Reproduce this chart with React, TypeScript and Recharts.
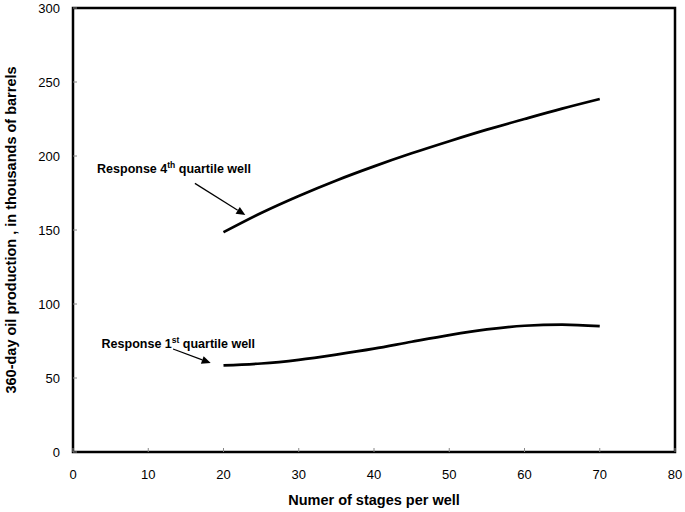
import React from "react"
import {
  LineChart,
  Line,
  XAxis,
  YAxis,
  ReferenceArea,
  ReferenceLine,
  ReferenceDot,
} from "recharts"

const stages = [20, 25, 30, 35, 40, 45, 50, 55, 60, 65, 70]
const fourthQuartile = [148.5, 161.5, 173, 183.5, 193, 201.8, 210, 217.8, 225, 232, 238.5]
const firstQuartile = [58.5, 59.8, 62.3, 65.8, 69.8, 74.5, 79, 82.8, 85.3, 86.1, 85]

const xTicks = [0, 10, 20, 30, 40, 50, 60, 70, 80]
const yTicks = [0, 50, 100, 150, 200, 250, 300]

const FONT = "'Liberation Sans', Arial, sans-serif"

const data = stages.map((s, i) => ({
  stages: s,
  q4: fourthQuartile[i],
  q1: firstQuartile[i],
}))

function Arrow(props: any) {
  const { x1, y1, x2, y2 } = props
  const ang = Math.atan2(y2 - y1, x2 - x1)
  const len = 9
  const w = 4
  const bx = x2 - len * Math.cos(ang)
  const by = y2 - len * Math.sin(ang)
  const px = -Math.sin(ang) * w
  const py = Math.cos(ang) * w
  return (
    <g>
      <line x1={x1} y1={y1} x2={bx} y2={by} stroke="#000" strokeWidth={1.2} />
      <polygon points={`${x2},${y2} ${bx + px},${by + py} ${bx - px},${by - py}`} fill="#000" />
    </g>
  )
}

function note(num: string, sup: string) {
  return (props: any) => (
    <text x={props.cx} y={props.cy} fontFamily={FONT} fontWeight="bold" fontSize={12.5} fill="#000">
      <tspan>{"Response " + num}</tspan>
      <tspan dy={-5} fontSize={8.5}>{sup}</tspan>
      <tspan dy={5}>{" quartile well"}</tspan>
    </text>
  )
}

export default function App() {
  return (
    <div style={{ position: "absolute", left: 0, top: 0, background: "#fff" }}>
      <LineChart
        width={685}
        height={512}
        data={data}
        margin={{ top: 8, right: 10, bottom: 0, left: 0 }}
      >
        <XAxis
          dataKey="stages"
          type="number"
          domain={[0, 80]}
          ticks={xTicks}
          interval={0}
          height={60}
          tickSize={-4}
          tickMargin={22}
          axisLine={false}
          tickLine={{ stroke: "#888", strokeWidth: 1 }}
          tick={{ fill: "#000", fontSize: 13, fontFamily: FONT }}
          label={{
            value: "Numer of stages per well",
            position: "insideBottom",
            offset: 7,
            style: { fill: "#000", fontSize: 14.5, fontWeight: "bold", fontFamily: FONT },
          }}
        />
        <YAxis
          type="number"
          domain={[0, 300]}
          ticks={yTicks}
          interval={0}
          width={73}
          tickSize={-4}
          tickMargin={17}
          axisLine={false}
          tickLine={{ stroke: "#888", strokeWidth: 1 }}
          tick={{ fill: "#000", fontSize: 13, fontFamily: FONT }}
          label={{
            value: "360-day oil production , in thousands of barrels",
            angle: -90,
            position: "insideLeft",
            offset: 11,
            style: { textAnchor: "middle", fill: "#000", fontSize: 14.5, fontWeight: "bold", fontFamily: FONT },
          }}
        />
        <ReferenceArea
          x1={0}
          x2={80}
          y1={0}
          y2={300}
          fill="none"
          stroke="#000"
          strokeWidth={2.5}
          fillOpacity={0}
        />
        <Line
          dataKey="q4"
          type="monotone"
          stroke="#000"
          strokeWidth={2.7}
          dot={false}
          isAnimationActive={false}
        />
        <Line
          dataKey="q1"
          type="monotone"
          stroke="#000"
          strokeWidth={2.7}
          dot={false}
          isAnimationActive={false}
        />
        <ReferenceLine
          segment={[
            { x: 16.2, y: 181.5 },
            { x: 22.9, y: 160.1 },
          ]}
          shape={Arrow}
        />
        <ReferenceLine
          segment={[
            { x: 13.3, y: 69.6 },
            { x: 18.3, y: 60.1 },
          ]}
          shape={Arrow}
        />
        <ReferenceDot x={3.2} y={188.2} r={0} shape={note("4", "th")} />
        <ReferenceDot x={3.8} y={70.6} r={0} shape={note("1", "st")} />
      </LineChart>
    </div>
  )
}
